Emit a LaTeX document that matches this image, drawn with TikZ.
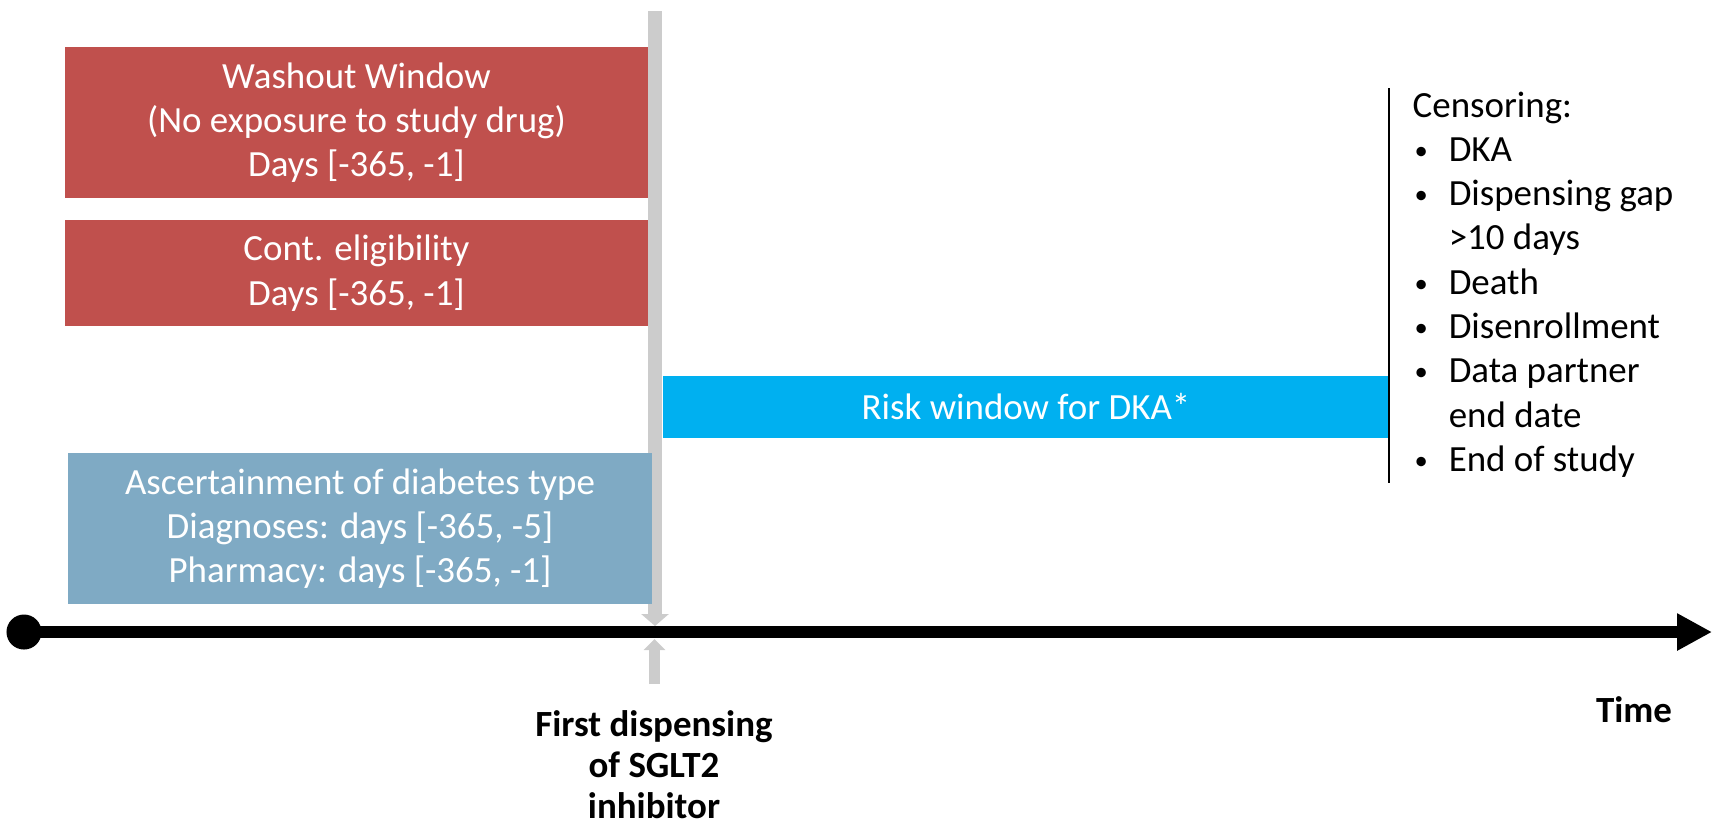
\documentclass[tikz,border=0pt]{standalone}
\usepackage{fontspec}
\setmainfont{Carlito}
\usepackage{xcolor}
\usepackage{graphicx}
\usetikzlibrary{arrows.meta}
\definecolor{washRed}{HTML}{C0504D}
\definecolor{ascBlue}{HTML}{7FAAC4}
\definecolor{riskCyan}{HTML}{00B0F0}
\definecolor{markGray}{HTML}{CCCCCC}
\newcommand{\cbul}{\makebox[0.36cm][l]{\hspace*{0.02cm}\raisebox{0.06em}{\scalebox{0.72}{\textbullet}}}}
\tikzset{
    winbox/.style={
        rectangle,
        fill=washRed,
        text=white,
        align=center,
        inner sep=0pt,
        minimum width=5.83cm,
        font=\fontsize{10.5}{12.6}\selectfont
    },
    ascbox/.style={
        winbox,
        fill=ascBlue,
        minimum width=5.84cm,
        minimum height=1.51cm
    },
    riskbox/.style={
        winbox,
        fill=riskCyan,
        minimum width=7.26cm,
        minimum height=0.62cm
    },
    timeaxis/.style={line width=0.12cm, -{Triangle[length=0.35cm, width=0.35cm]}},
    markarrow/.style={line width=0.14cm, draw=markGray, -{Triangle[length=0.12cm, width=0.27cm]}},
    markback/.style={line width=0.11cm, draw=markGray, -{Triangle[length=0.11cm, width=0.21cm]}},
    censline/.style={draw, line width=0.02cm},
    plainlabel/.style={inner sep=0pt, font=\fontsize{10.5}{12.6}\selectfont},
    boldlabel/.style={inner sep=0pt, align=center, font=\bfseries\fontsize{10.5}{11.7}\selectfont}
}

\begin{document}
\begin{tikzpicture}[x=0.01cm,y=-0.01cm]
        \useasboundingbox (0,0) rectangle (1719,826);

        \coordinate (dtop) at (655,11);
        \coordinate (dhit) at (655,626);
        \coordinate (dbot) at (654.5,684);
        \coordinate (dup) at (654.5,639);
        \draw[markarrow] (dtop) -- (dhit);
        \draw[markback] (dbot) -- (dup);

        \node[winbox, minimum height=1.51cm] (washout) at (356.5,122.5) {Washout Window\\(No exposure to study drug)\\Days [-365, -1]};
        \node[winbox, minimum height=1.06cm] (elig) at (356.5,273) {Cont. eligibility\\Days [-365, -1]};
        \node[ascbox] (ascert) at (360,528.5) {Ascertainment of diabetes type\\Diagnoses: days [-365, -5]\\Pharmacy: days [-365, -1]};
        \node[riskbox] (risk) at (1026,407) {Risk window for DKA*};

        \node[circle, fill=black, minimum size=0.35cm, inner sep=0pt] (tzero) at (24,632) {};
        \coordinate (tend) at (1712,632);
        \draw[timeaxis] (tzero.center) -- (tend);

        \coordinate (cstop) at (1389,88);
        \coordinate (csbot) at (1389,483);
        \draw[censline] (cstop) -- (csbot);
        \node[plainlabel, anchor=base west] (censor) at (1412,117) {\begin{tabular}[t]{@{}l@{}}
            Censoring:\\
            \cbul DKA\\
            \cbul Dispensing gap\\
            \hspace*{0.36cm}>10 days\\
            \cbul Death\\
            \cbul Disenrollment\\
            \cbul Data partner\\
            \hspace*{0.36cm}end date\\
            \cbul End of study
        \end{tabular}};

        \node[boldlabel] (firstdisp) at (654,765) {First dispensing\\of SGLT2\\inhibitor};
        \node[boldlabel] (timelbl) at (1634,710) {Time};
    \end{tikzpicture}
\end{document}
